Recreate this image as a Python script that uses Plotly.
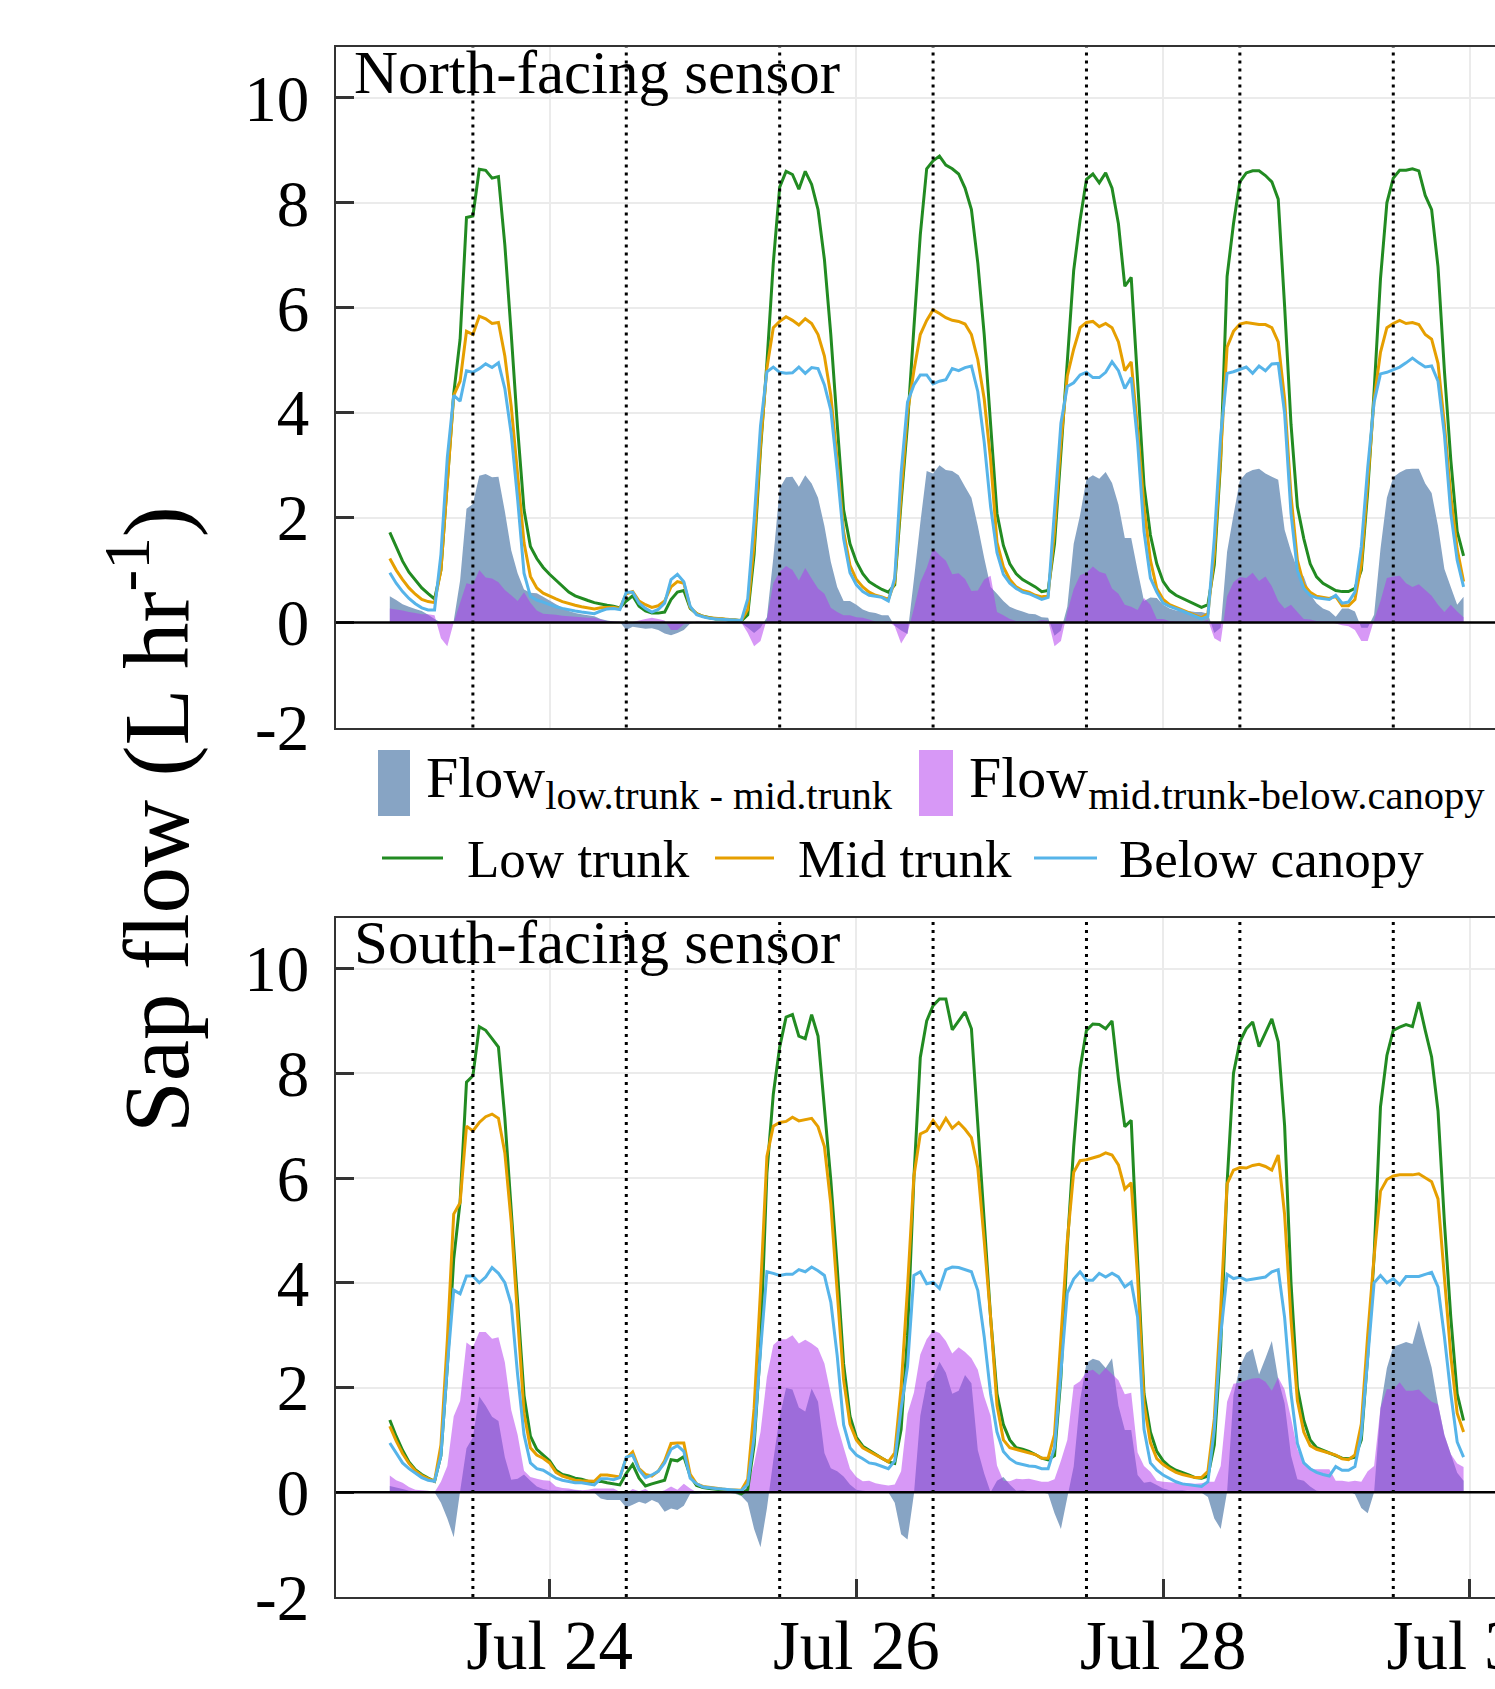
import pandas as pd
import plotly.graph_objects as go

# ---------------- data (hourly) ----------------
times = pd.date_range("2019-07-22 23:00", periods=169, freq="h")

north_low = [
    1.72, 1.43, 1.17, 0.96, 0.80, 0.66, 0.55, 0.45,
    1.00, 2.70, 4.36, 5.40, 7.72, 7.75, 8.64, 8.62,
    8.47, 8.50, 7.20, 5.50, 3.70, 2.15, 1.45, 1.22,
    1.05, 0.92, 0.80, 0.68, 0.58, 0.51, 0.46, 0.42,
    0.38, 0.35, 0.33, 0.31, 0.28, 0.41, 0.51, 0.31,
    0.22, 0.18, 0.18, 0.20, 0.44, 0.58, 0.61, 0.27,
    0.17, 0.12, 0.09, 0.07, 0.07, 0.05, 0.05, 0.03,
    0.15, 1.30, 3.30, 4.95, 6.85, 8.30, 8.60, 8.54,
    8.26, 8.60, 8.35, 7.87, 6.92, 5.49, 3.78, 2.15,
    1.50, 1.16, 0.93, 0.78, 0.70, 0.63, 0.58, 0.72,
    2.30, 3.78, 5.62, 7.39, 8.65, 8.80, 8.89, 8.72,
    8.65, 8.55, 8.28, 7.87, 6.85, 5.49, 3.78, 2.08,
    1.47, 1.12, 0.93, 0.82, 0.75, 0.68, 0.59, 0.61,
    1.50, 3.30, 5.00, 6.71, 7.67, 8.45, 8.55, 8.38,
    8.57, 8.28, 7.60, 6.41, 6.58, 4.67, 2.62, 1.67,
    1.12, 0.78, 0.61, 0.52, 0.46, 0.40, 0.34, 0.29,
    0.34, 1.10, 3.10, 6.60, 7.60, 8.40, 8.57, 8.61,
    8.61, 8.52, 8.40, 8.07, 6.03, 3.78, 2.21, 1.60,
    1.12, 0.87, 0.75, 0.68, 0.61, 0.59, 0.59, 0.65,
    1.00, 2.50, 4.40, 6.55, 8.00, 8.47, 8.62, 8.62,
    8.65, 8.61, 8.14, 7.87, 6.78, 4.80, 3.10, 1.74,
    1.27,
]
north_mid = [
    1.22, 1.00, 0.82, 0.66, 0.54, 0.44, 0.40, 0.38,
    1.00, 2.70, 4.33, 4.60, 5.55, 5.49, 5.84, 5.79,
    5.70, 5.72, 5.08, 4.12, 2.76, 1.52, 0.88, 0.66,
    0.56, 0.50, 0.45, 0.40, 0.36, 0.33, 0.30, 0.28,
    0.26, 0.28, 0.29, 0.29, 0.27, 0.55, 0.59, 0.41,
    0.34, 0.29, 0.32, 0.41, 0.68, 0.78, 0.75, 0.29,
    0.17, 0.12, 0.09, 0.08, 0.07, 0.06, 0.05, 0.04,
    0.25, 1.50, 3.40, 4.85, 5.62, 5.74, 5.83, 5.76,
    5.67, 5.79, 5.70, 5.49, 5.08, 4.33, 3.10, 1.74,
    1.09, 0.82, 0.68, 0.58, 0.52, 0.49, 0.44, 0.78,
    2.45, 4.00, 4.80, 5.49, 5.76, 5.96, 5.89, 5.81,
    5.76, 5.74, 5.69, 5.49, 5.01, 4.26, 3.10, 1.53,
    1.06, 0.82, 0.68, 0.61, 0.58, 0.52, 0.49, 0.52,
    1.75, 3.45, 4.70, 5.21, 5.62, 5.72, 5.74, 5.64,
    5.70, 5.62, 5.35, 4.80, 4.97, 3.68, 2.21, 1.19,
    0.65, 0.44, 0.34, 0.29, 0.24, 0.18, 0.14, 0.09,
    0.17, 1.30, 3.20, 5.25, 5.55, 5.69, 5.72, 5.70,
    5.68, 5.68, 5.62, 5.35, 4.26, 2.42, 1.19, 0.72,
    0.58, 0.50, 0.48, 0.46, 0.50, 0.32, 0.32, 0.44,
    1.10, 2.60, 4.25, 5.15, 5.62, 5.70, 5.76, 5.70,
    5.72, 5.68, 5.49, 5.40, 4.94, 3.78, 2.42, 1.40,
    0.78,
]
north_below = [
    0.95, 0.75, 0.59, 0.46, 0.36, 0.28, 0.24, 0.24,
    1.30, 3.15, 4.33, 4.22, 4.80, 4.77, 4.84, 4.93,
    4.86, 4.95, 4.46, 3.60, 2.35, 0.94, 0.50, 0.43,
    0.39, 0.34, 0.30, 0.27, 0.24, 0.22, 0.20, 0.19,
    0.17, 0.22, 0.26, 0.27, 0.25, 0.58, 0.58, 0.37,
    0.27, 0.20, 0.25, 0.37, 0.82, 0.92, 0.78, 0.31,
    0.15, 0.11, 0.08, 0.07, 0.06, 0.05, 0.04, 0.04,
    0.45, 1.95, 3.75, 4.78, 4.87, 4.77, 4.75, 4.76,
    4.87, 4.75, 4.86, 4.84, 4.53, 4.05, 2.90, 1.60,
    0.95, 0.72, 0.59, 0.52, 0.50, 0.48, 0.41, 0.85,
    2.85, 4.20, 4.53, 4.72, 4.72, 4.55, 4.60, 4.63,
    4.84, 4.80, 4.86, 4.89, 4.40, 3.44, 2.21, 1.33,
    0.92, 0.75, 0.65, 0.58, 0.55, 0.50, 0.44, 0.48,
    2.20, 3.80, 4.50, 4.57, 4.72, 4.77, 4.67, 4.67,
    4.77, 4.97, 4.80, 4.46, 4.67, 3.44, 1.74, 0.85,
    0.58, 0.37, 0.31, 0.27, 0.22, 0.17, 0.12, 0.07,
    0.12, 1.60, 3.57, 4.75, 4.78, 4.82, 4.87, 4.75,
    4.89, 4.80, 4.93, 4.94, 3.99, 2.08, 0.99, 0.65,
    0.52, 0.47, 0.46, 0.44, 0.52, 0.37, 0.39, 0.58,
    1.45, 2.95, 4.20, 4.74, 4.77, 4.82, 4.87, 4.95,
    5.04, 4.95, 4.87, 4.89, 4.60, 3.58, 2.08, 1.19,
    0.68,
]

south_low = [
    1.38, 1.07, 0.80, 0.58, 0.43, 0.34, 0.27, 0.21,
    0.70, 2.40, 4.45, 5.55, 7.83, 7.95, 8.89, 8.82,
    8.66, 8.50, 7.15, 5.40, 3.60, 1.85, 1.07, 0.82,
    0.71, 0.60, 0.42, 0.34, 0.31, 0.27, 0.25, 0.21,
    0.20, 0.21, 0.18, 0.16, 0.14, 0.36, 0.53, 0.27,
    0.12, 0.16, 0.20, 0.23, 0.62, 0.60, 0.68, 0.31,
    0.13, 0.09, 0.07, 0.06, 0.05, 0.04, 0.02, -0.03,
    0.05, 0.90, 2.80, 6.10, 7.60, 8.50, 9.07, 9.12,
    8.71, 8.66, 9.12, 8.71, 7.35, 5.96, 4.30, 2.45,
    1.45, 1.05, 0.88, 0.80, 0.72, 0.65, 0.58, 0.55,
    1.20, 3.00, 6.00, 8.30, 9.00, 9.29, 9.42, 9.42,
    8.83, 9.00, 9.17, 8.85, 6.99, 5.16, 3.34, 1.88,
    1.29, 1.00, 0.85, 0.82, 0.78, 0.72, 0.65, 0.62,
    0.70, 2.20, 4.70, 6.60, 8.09, 8.82, 8.94, 8.93,
    8.85, 9.00, 7.90, 6.98, 7.10, 4.43, 1.88, 1.15,
    0.78, 0.60, 0.49, 0.42, 0.38, 0.33, 0.28, 0.27,
    0.31, 0.90, 2.80, 5.90, 8.00, 8.60, 8.85, 8.98,
    8.51, 8.78, 9.04, 8.60, 7.00, 4.00, 2.00, 1.37,
    1.00, 0.85, 0.80, 0.76, 0.71, 0.65, 0.64, 0.67,
    1.00, 2.60, 4.50, 7.36, 8.34, 8.82, 8.88, 8.93,
    8.89, 9.36, 8.82, 8.31, 7.28, 5.16, 3.34, 1.88,
    1.37,
]
south_mid = [
    1.26, 0.98, 0.74, 0.55, 0.41, 0.32, 0.26, 0.21,
    0.90, 2.90, 5.31, 5.53, 6.99, 6.90, 7.06, 7.17,
    7.22, 7.14, 6.48, 5.16, 3.34, 1.51, 0.85, 0.71,
    0.65, 0.56, 0.38, 0.31, 0.27, 0.23, 0.22, 0.21,
    0.21, 0.33, 0.33, 0.31, 0.29, 0.65, 0.77, 0.45,
    0.34, 0.31, 0.40, 0.60, 0.93, 0.94, 0.94, 0.34,
    0.16, 0.11, 0.09, 0.07, 0.06, 0.05, 0.05, 0.04,
    0.25, 1.60, 3.85, 6.41, 6.99, 7.06, 7.08, 7.16,
    7.09, 7.12, 7.14, 6.98, 6.60, 5.50, 3.90, 2.15,
    1.30, 1.00, 0.85, 0.78, 0.71, 0.65, 0.58, 0.75,
    2.00, 3.90, 6.04, 6.84, 6.90, 7.10, 6.93, 7.14,
    6.95, 7.06, 6.93, 6.77, 6.19, 4.80, 3.34, 1.66,
    1.00, 0.85, 0.82, 0.78, 0.76, 0.72, 0.65, 0.65,
    1.10, 2.90, 4.80, 6.11, 6.33, 6.35, 6.39, 6.42,
    6.48, 6.44, 6.25, 5.79, 5.91, 4.10, 1.70, 0.95,
    0.64, 0.53, 0.45, 0.38, 0.34, 0.31, 0.28, 0.28,
    0.40, 1.40, 3.50, 5.89, 6.15, 6.20, 6.19, 6.24,
    6.26, 6.22, 6.15, 6.44, 5.30, 3.30, 1.75, 1.15,
    0.89, 0.82, 0.78, 0.75, 0.71, 0.64, 0.62, 0.71,
    1.30, 3.00, 4.50, 5.75, 5.97, 6.04, 6.06, 6.06,
    6.06, 6.08, 6.00, 5.93, 5.60, 4.07, 2.61, 1.51,
    1.15,
]
south_below = [
    0.94, 0.75, 0.56, 0.45, 0.36, 0.28, 0.23, 0.21,
    0.70, 2.40, 3.86, 3.79, 4.13, 4.13, 4.00, 4.11,
    4.29, 4.18, 4.00, 3.59, 2.24, 1.10, 0.56, 0.45,
    0.42, 0.34, 0.27, 0.23, 0.20, 0.18, 0.18, 0.16,
    0.14, 0.26, 0.26, 0.24, 0.28, 0.67, 0.71, 0.43,
    0.28, 0.33, 0.40, 0.56, 0.82, 0.89, 0.78, 0.27,
    0.16, 0.10, 0.08, 0.07, 0.06, 0.05, 0.04, 0.03,
    0.15, 1.05, 2.70, 4.21, 4.18, 4.14, 4.16, 4.16,
    4.25, 4.21, 4.30, 4.23, 4.14, 3.63, 2.61, 1.29,
    0.85, 0.71, 0.64, 0.56, 0.54, 0.50, 0.45, 0.60,
    1.60, 2.40, 4.14, 4.21, 3.98, 4.01, 3.89, 4.25,
    4.30, 4.29, 4.25, 4.21, 3.85, 2.97, 1.88, 1.15,
    0.78, 0.64, 0.56, 0.53, 0.50, 0.49, 0.45, 0.45,
    0.85, 2.30, 3.80, 4.07, 4.21, 4.05, 4.05, 4.18,
    4.11, 4.18, 4.11, 3.92, 4.01, 3.34, 1.20, 0.56,
    0.42, 0.33, 0.26, 0.20, 0.16, 0.14, 0.12, 0.11,
    0.20, 1.20, 3.00, 4.16, 4.08, 4.11, 4.05, 4.07,
    4.08, 4.11, 4.21, 4.25, 3.34, 1.88, 0.93, 0.56,
    0.45, 0.38, 0.34, 0.31, 0.49, 0.42, 0.42, 0.49,
    1.10, 2.60, 4.00, 4.14, 4.00, 4.08, 3.96, 4.12,
    4.12, 4.12, 4.16, 4.20, 3.92, 2.97, 1.88, 0.96,
    0.67,
]

# flows between sensor heights (difference of the plotted series)
north_low_mid = [round(a - b, 3) for a, b in zip(north_low, north_mid)]
north_mid_below = [round(a - b, 3) for a, b in zip(north_mid, north_below)]
south_low_mid = [round(a - b, 3) for a, b in zip(south_low, south_mid)]
south_mid_below = [round(a - b, 3) for a, b in zip(south_mid, south_below)]

noon_marks = ["2019-07-23 12:00", "2019-07-24 12:00", "2019-07-25 12:00",
              "2019-07-26 12:00", "2019-07-27 12:00", "2019-07-28 12:00",
              "2019-07-29 12:00"]
x_tick_vals = ["2019-07-24", "2019-07-26", "2019-07-28", "2019-07-30"]
x_tick_text = ["Jul 24", "Jul 26", "Jul 28", "Jul 30"]
y_tick_vals = [-2, 0, 2, 4, 6, 8, 10]
y_tick_text = ["-2", "0", "2", "4", "6", "8", "10"]
panel_titles = ["North-facing sensor", "South-facing sensor"]

# ---------------- style ----------------
FONT = "Liberation Serif, Times New Roman, serif"
GREEN = "#228B22"
ORANGE = "#E69F00"
SKY = "#56B4E9"
FILL_LM = "rgb(135,164,196)"
FILL_MB = "rgba(178,58,238,0.52)"
GRID = "#EBEBEB"
AXC = "#333333"

W, H = 1495, 1689
ML, MR, MT, MB = 336, 0, 47, 92
PW, PH = W - ML - MR, H - MT - MB


def px(x):
    return (x - ML) / PW


def py(y):
    return (H - MB - y) / PH


fig = go.Figure()

panels = [
    ("x", "y", north_low, north_mid, north_below, north_low_mid, north_mid_below),
    ("x2", "y2", south_low, south_mid, south_below, south_low_mid, south_mid_below),
]
for xa, ya, low, mid, below, lm, mb in panels:
    fig.add_trace(go.Scatter(x=times, y=lm, mode="none", fill="tozeroy",
                             fillcolor=FILL_LM, xaxis=xa, yaxis=ya,
                             showlegend=False, hoverinfo="skip"))
    fig.add_trace(go.Scatter(x=times, y=mb, mode="none", fill="tozeroy",
                             fillcolor=FILL_MB, xaxis=xa, yaxis=ya,
                             showlegend=False, hoverinfo="skip"))
    for series, col in ((low, GREEN), (mid, ORANGE), (below, SKY)):
        fig.add_trace(go.Scatter(x=times, y=series, mode="lines",
                                 line=dict(color=col, width=3),
                                 xaxis=xa, yaxis=ya, showlegend=False))

x_range = ["2019-07-22 14:35", "2019-07-30 03:55"]
y_range = [-2, 10.97]

common_x = dict(range=x_range, showgrid=True, gridcolor=GRID, gridwidth=2,
                tickvals=x_tick_vals, ticktext=x_tick_text,
                showline=True, linecolor=AXC, linewidth=1.6, mirror=True,
                zeroline=False, ticklabeloverflow="allow", automargin=False,
                tickfont=dict(family=FONT, size=69, color="black"))
common_y = dict(range=y_range, showgrid=True, gridcolor=GRID, gridwidth=2,
                tickvals=y_tick_vals, ticktext=y_tick_text,
                showline=True, linecolor=AXC, linewidth=1.6, mirror=False,
                zeroline=False, ticks="inside", ticklen=18, tickwidth=3,
                tickcolor=AXC, ticklabelstandoff=12, automargin=False,
                tickfont=dict(family=FONT, size=65, color="black"))

top_dom = [py(727.5), 1.0]
bot_dom = [0.0, py(917.7)]

fig.update_layout(
    width=W, height=H, autosize=False,
    margin=dict(l=ML, r=MR, t=MT, b=MB, autoexpand=False),
    paper_bgcolor="white", plot_bgcolor="white",
    font=dict(family=FONT, color="black"),
    showlegend=False,
    xaxis=dict(common_x, domain=[0, 1], anchor="y", showticklabels=False, ticks=""),
    yaxis=dict(common_y, domain=top_dom, anchor="x"),
    xaxis2=dict(common_x, domain=[0, 1], anchor="y2", ticks="inside",
                ticklen=18, tickwidth=3, tickcolor=AXC, ticklabelstandoff=-13),
    yaxis2=dict(common_y, domain=bot_dom, anchor="x2"),
)

shapes = []
for xa, ya in (("x", "y"), ("x2", "y2")):
    for t in noon_marks:
        shapes.append(dict(type="line", xref=xa, yref=ya + " domain",
                           x0=t, x1=t, y0=0, y1=1, layer="above",
                           line=dict(color="black", width=3, dash="3px,5px")))
    shapes.append(dict(type="line", xref=xa + " domain", yref=ya,
                       x0=0, x1=1, y0=0, y1=0, layer="above",
                       line=dict(color="black", width=2.6)))

# legend (drawn manually to match two-row layout)
shapes.append(dict(type="rect", xref="paper", yref="paper",
                   x0=px(378), x1=px(410), y0=py(816), y1=py(750),
                   fillcolor=FILL_LM, line=dict(width=0)))
shapes.append(dict(type="rect", xref="paper", yref="paper",
                   x0=px(919), x1=px(953), y0=py(816), y1=py(750),
                   fillcolor=FILL_MB, line=dict(width=0)))
for x0, x1, col in ((382, 443, GREEN), (715, 774, ORANGE), (1034, 1097, SKY)):
    shapes.append(dict(type="line", xref="paper", yref="paper",
                       x0=px(x0), x1=px(x1), y0=py(858), y1=py(858),
                       line=dict(color=col, width=3)))
fig.update_layout(shapes=shapes)

annotations = [
    dict(text=panel_titles[0], x=px(352), y=py(73), xref="paper", yref="paper",
         xanchor="left", yanchor="middle", showarrow=False,
         font=dict(family=FONT, size=61, color="black")),
    dict(text=panel_titles[1], x=px(352), y=py(942), xref="paper", yref="paper",
         xanchor="left", yanchor="middle", showarrow=False,
         font=dict(family=FONT, size=61, color="black")),
    dict(text="Sap flow (L hr<sup>-1</sup>)", x=px(150), y=py(820),
         xref="paper", yref="paper", xanchor="center", yanchor="middle",
         textangle=-90, showarrow=False,
         font=dict(family=FONT, size=93, color="black")),
    dict(text="Flow<sub>low.trunk - mid.trunk</sub>", x=px(424), y=py(781),
         xref="paper", yref="paper", xanchor="left", yanchor="middle",
         showarrow=False, font=dict(family=FONT, size=58, color="black")),
    dict(text="Flow<sub>mid.trunk-below.canopy</sub>", x=px(967), y=py(781),
         xref="paper", yref="paper", xanchor="left", yanchor="middle",
         showarrow=False, font=dict(family=FONT, size=58, color="black")),
]
for x0, label in ((465, "Low trunk"), (796, "Mid trunk"), (1117, "Below canopy")):
    annotations.append(dict(text=label, x=px(x0), y=py(859), xref="paper",
                            yref="paper", xanchor="left", yanchor="middle",
                            showarrow=False,
                            font=dict(family=FONT, size=53, color="black")))
fig.update_layout(annotations=annotations)

fig.write_html("out.html", config={"displayModeBar": False},
               post_script="document.body.style.margin='0';")
